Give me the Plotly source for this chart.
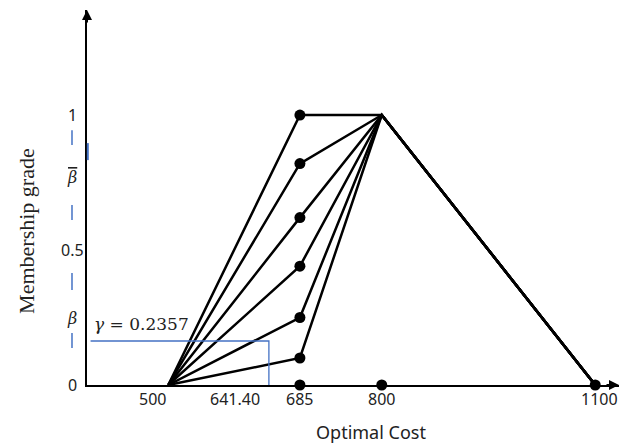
import plotly.graph_objects as go

# ---- data ----
left_cost = 500
mid_cost = 685
peak_cost = 800
right_cost = 1100
grade_at_mid = [1.0, 0.82, 0.62, 0.44, 0.25, 0.10]
axis_dot_costs = [685, 800, 1100]

cost_ticks = [500, 641.40, 685, 800, 1100]
cost_tick_labels = ["500", "641.40", "685", "800", "1100"]
cost_label_shift = [-16, -34, 0, 0, 4]

grade_ticks = [0, 0.248, 0.5, 0.767, 1]
grade_tick_labels = ["0", "<i>β</i>",
                     "0.5", "<span style=\"text-decoration:overline\"><i>β</i></span>", "1"]

gamma_cost = 641.40
gamma_grade = 0.163
gamma_label = "<i>γ</i> = 0.2357"

dash_ranges = [(0.889, 0.944), (0.611, 0.667), (0.352, 0.415), (0.137, 0.193)]
axis_blue_range = (0.833, 0.896)

x_range = [385.8, 1133.4]
y_range = [0, 1.389]

fig = go.Figure()

line_style = dict(color="black", width=2.5)

for h in grade_at_mid:
    fig.add_trace(go.Scatter(
        x=[left_cost, mid_cost, peak_cost, right_cost],
        y=[0, h, 1, 0],
        mode="lines",
        line=line_style,
        cliponaxis=False,
        showlegend=False,
        hoverinfo="skip",
    ))

fig.add_trace(go.Scatter(
    x=[mid_cost] * len(grade_at_mid),
    y=grade_at_mid,
    mode="markers",
    marker=dict(color="black", size=11),
    cliponaxis=False,
    showlegend=False,
))
fig.add_trace(go.Scatter(
    x=axis_dot_costs,
    y=[0] * len(axis_dot_costs),
    mode="markers",
    marker=dict(color="black", size=11),
    cliponaxis=False,
    showlegend=False,
))

# gamma guide lines
fig.add_trace(go.Scatter(
    x=[x_range[0] + 5, gamma_cost, gamma_cost],
    y=[gamma_grade, gamma_grade, 0],
    mode="lines",
    line=dict(color="#4472C4", width=1.3),
    showlegend=False,
    hoverinfo="skip",
))

shapes = []
for lo, hi in dash_ranges:
    shapes.append(dict(type="line", xref="paper", yref="y",
                       x0=-0.0282, x1=-0.0282, y0=lo, y1=hi,
                       line=dict(color="#4472C4", width=1.5)))
shapes.append(dict(type="line", xref="paper", yref="y",
                   x0=0.0015, x1=0.0015, y0=axis_blue_range[0], y1=axis_blue_range[1],
                   line=dict(color="#4472C4", width=2)))

ann = []
tick_font = dict(family="Noto Sans, Open Sans, sans-serif", size=16, color="#222")
greek_font = dict(family="DejaVu Serif, serif", size=16, color="#222")
for v, t, s in zip(cost_ticks, cost_tick_labels, cost_label_shift):
    ann.append(dict(x=v, y=0, xref="x", yref="paper", text=t, showarrow=False,
                    xanchor="center", yanchor="middle", yshift=-14, xshift=s,
                    font=tick_font))
for v, t in zip(grade_ticks, grade_tick_labels):
    f = greek_font if "β" in t else tick_font
    ann.append(dict(x=0, y=v, xref="paper", yref="y", text=t, showarrow=False,
                    xanchor="center", yanchor="middle", xshift=-15,
                    font=f))

ann.append(dict(x=0, y=gamma_grade, xref="paper", yref="y", text=gamma_label,
                showarrow=False, xanchor="left", yanchor="middle", xshift=5, yshift=17,
                font=dict(family="DejaVu Serif, serif", size=17, color="#222")))

ann.append(dict(x=0.534, y=-0.125, xref="paper", yref="paper", text="Optimal Cost",
                showarrow=False, xanchor="center", yanchor="middle",
                font=dict(family="Noto Sans, Open Sans, sans-serif", size=18, color="#222")))
ann.append(dict(x=0, y=0.411, xref="paper", yref="paper", text="Membership grade",
                showarrow=False, xanchor="center", yanchor="middle", xshift=-60,
                textangle=-90,
                font=dict(family="Liberation Serif, Times New Roman, serif", size=22, color="#222")))

# axis arrowheads
ann.append(dict(x=x_range[1], y=0, xref="x", yref="y", ax=-14, ay=0, text="",
                showarrow=True, arrowhead=2, arrowsize=1, arrowwidth=2, arrowcolor="black",
                standoff=0))
ann.append(dict(x=x_range[0], y=y_range[1], xref="x", yref="y", ax=0, ay=14, text="",
                showarrow=True, arrowhead=2, arrowsize=1, arrowwidth=2, arrowcolor="black",
                standoff=0))

fig.update_layout(
    width=624, height=444,
    margin=dict(l=87, r=5, t=10, b=59),
    paper_bgcolor="white", plot_bgcolor="white",
    xaxis=dict(range=x_range, showgrid=False, zeroline=False, showticklabels=False,
               ticks="", showline=True, linecolor="black", linewidth=2),
    yaxis=dict(range=y_range, showgrid=False, zeroline=False, showticklabels=False,
               ticks="", showline=True, linecolor="black", linewidth=2),
    shapes=shapes,
    annotations=ann,
)

fig.write_html("out.html", config={"displayModeBar": False},
               post_script="document.body.style.margin='0';document.body.style.padding='0';")
